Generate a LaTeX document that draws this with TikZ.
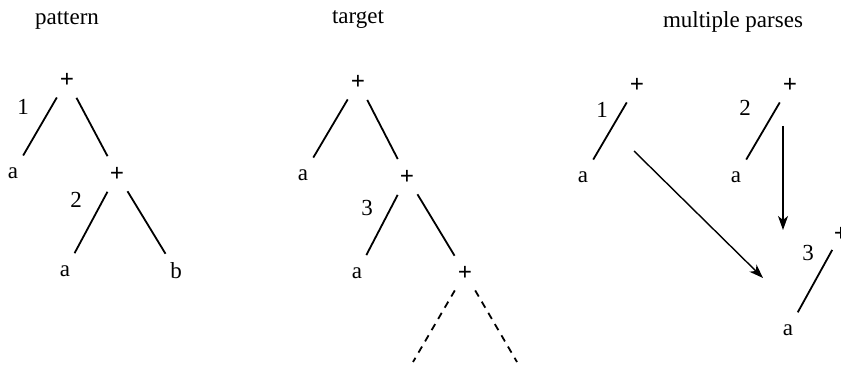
\documentclass[tikz,border=0pt]{standalone}
\usepackage{fontspec}
\setmainfont{Liberation Serif}
\usetikzlibrary{arrows.meta}
\begin{document}
\begin{tikzpicture}[x=1pt,y=-1pt,
  every node/.style={font=\fontsize{23}{27}\selectfont},
  tn/.style={circle,inner sep=0pt,minimum size=40pt},
  pl/.style={tn,font=\fontsize{25}{29}\selectfont\bfseries},
  lbl/.style={inner sep=0pt},
  edge/.style={line width=1.8pt},
  dedge/.style={line width=1.8pt,dash pattern=on 7pt off 6pt},
  arr/.style={line width=1.4pt,-{Stealth[length=14pt,width=10pt,inset=4pt]}}]
\useasboundingbox (0,0) rectangle (841,366);
% titles
\node[lbl] (t1) at (67,20) {pattern};
\node[lbl] (t2) at (358,20) {target};
\node[lbl] (t3) at (733,22) {multiple parses};
% pattern tree
\node[pl] (pA) at (67,80) {+};
\node[tn] (aA) at (13,173) {a};
\node[pl] (pB) at (117,174) {+};
\node[tn] (aB) at (65,271) {a};
\node[tn] (bB) at (176,271) {b};
\node[lbl] (n1) at (23,107) {1};
\node[lbl] (n2) at (76,200) {2};
\draw[edge] (pA) -- (aA);
\draw[edge] (pA) -- (pB);
\draw[edge] (pB) -- (aB);
\draw[edge] (pB) -- (bB);
% target tree
\node[pl] (qA) at (358,82) {+};
\node[tn] (cA) at (303,175) {a};
\node[pl] (qB) at (407,177) {+};
\node[tn] (cB) at (357,273) {a};
\node[pl] (qC) at (465,273) {+};
\node[lbl] (n3) at (367,208) {3};
\coordinate (d1) at (413,362);
\coordinate (d2) at (517,362);
\draw[edge] (qA) -- (cA);
\draw[edge] (qA) -- (qB);
\draw[edge] (qB) -- (cB);
\draw[edge] (qB) -- (qC);
\draw[dedge] (qC) -- (d1);
\draw[dedge] (qC) -- (d2);
% multiple parses
\node[pl] (r1) at (637,85) {+};
\node[tn] (e1) at (583,177) {a};
\node[lbl] (m1) at (602,110) {1};
\node[pl] (r2) at (790,85) {+};
\node[tn] (e2) at (736,177) {a};
\node[lbl] (m2) at (745,108) {2};
\node[pl] (r3) at (841,234) {+};
\node[tn] (e3) at (788,330) {a};
\node[lbl] (m3) at (808,253) {3};
\draw[edge] (r1) -- (e1);
\draw[edge] (r2) -- (e2);
\draw[edge,shorten <=-2pt] (r3) -- (e3);
\coordinate (s1) at (634,151);
\coordinate (f1) at (763,278);
\coordinate (s2) at (783,126);
\coordinate (f2) at (783,230);
\draw[arr] (s1) -- (f1);
\draw[arr] (s2) -- (f2);
\end{tikzpicture}
\end{document}
